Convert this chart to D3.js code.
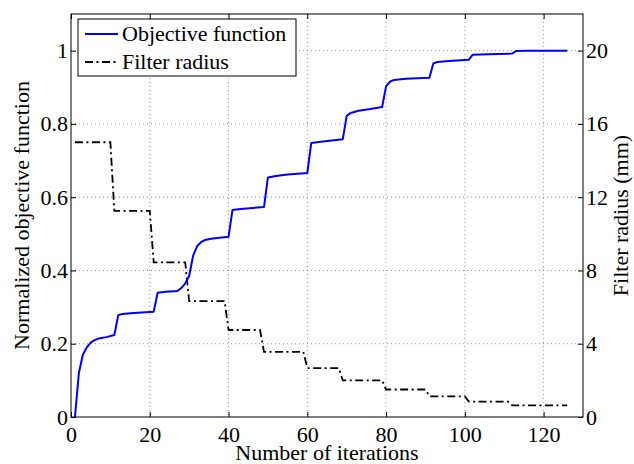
<!DOCTYPE html>
<html>
<head>
<meta charset="utf-8">
<script src="https://cdn.jsdelivr.net/npm/d3@7"></script>
<style>
  body { margin: 0; background: #fff; }
  svg text { font-family: "Liberation Serif", "DejaVu Serif", serif; fill: #000; }
</style>
</head>
<body>
<svg id="chart" width="634" height="464"></svg>
<script>
// objective function (normalized) vs iteration
var obj_iter = [1, 2, 3, 4, 5, 6, 7, 9, 11, 12, 13, 16, 21, 22, 24, 27, 28, 29, 30, 31, 32, 33, 34, 36, 40,
    41, 43, 49, 50, 52, 55, 60, 61, 64, 69, 70, 71, 73, 76, 79, 80, 81, 82, 85, 91, 92, 93, 96, 101,
    102, 106, 112, 113, 116, 126];
var obj_val = [0, 0.12, 0.17, 0.19, 0.203, 0.21, 0.214, 0.218, 0.224, 0.278, 0.281, 0.284, 0.287, 0.339, 0.342, 0.344, 0.352, 0.365, 0.385, 0.44, 0.466, 0.477, 0.483, 0.487, 0.492,
    0.565, 0.568, 0.573, 0.654, 0.658, 0.662, 0.666, 0.748, 0.752, 0.758, 0.822, 0.83, 0.836, 0.841, 0.846, 0.903, 0.915, 0.92, 0.923, 0.926, 0.965, 0.969, 0.972, 0.975,
    0.989, 0.99, 0.992, 0.999, 1.0, 1.0];

// filter radius (mm) vs iteration
var rad_iter = [1, 10, 11, 20, 21, 29, 30, 39, 40, 48, 49, 59, 60, 68, 69, 79, 80, 90, 91, 100, 101, 111, 112, 126];
var rad_val = [15, 15, 11.25, 11.25, 8.44, 8.44, 6.33, 6.33, 4.75, 4.75, 3.56, 3.56, 2.67, 2.67, 2.0, 2.0, 1.5, 1.5, 1.13, 1.13, 0.84, 0.84, 0.63, 0.63];

var x_ticks = [0, 20, 40, 60, 80, 100, 120];
var y_ticks = [0, 0.2, 0.4, 0.6, 0.8, 1];
var y2_ticks = [0, 4, 8, 12, 16, 20];
var legend_labels = ["Objective function", "Filter radius"];

var margin = {left: 71, right: 51, top: 14, bottom: 47};
var width = 634 - margin.left - margin.right;
var height = 464 - margin.top - margin.bottom;
var serif = "'Liberation Serif', 'DejaVu Serif', serif";

var svg = d3.select("#chart");
var g = svg.append("g")
    .attr("transform", "translate(" + margin.left + "," + margin.top + ")");

var x = d3.scaleLinear().domain([0, 130]).range([0, width]);
var y = d3.scaleLinear().domain([0, 1.1]).range([height, 0]);
var y2 = d3.scaleLinear().domain([0, 22]).range([height, 0]);

// dotted grid
g.selectAll(".vgrid")
    .data(x_ticks.filter(function (d) { return d > 0; }))
    .enter().append("line")
    .attr("x1", function (d) { return x(d); })
    .attr("x2", function (d) { return x(d); })
    .attr("y1", 0).attr("y2", height)
    .attr("stroke", "#777").attr("stroke-width", 0.8)
    .attr("stroke-dasharray", "1,3");

g.selectAll(".hgrid")
    .data(y_ticks.filter(function (d) { return d > 0; }))
    .enter().append("line")
    .attr("x1", 0).attr("x2", width)
    .attr("y1", function (d) { return y(d); })
    .attr("y2", function (d) { return y(d); })
    .attr("stroke", "#777").attr("stroke-width", 0.8)
    .attr("stroke-dasharray", "1,3");

// axes, matlab style: ticks point inward, mirrored on every side
function style_axis(sel) {
    sel.attr("font-family", serif).attr("font-size", 22);
    sel.select(".domain").remove();
    sel.selectAll(".tick line").attr("stroke", "#000");
    sel.selectAll(".tick text").attr("fill", "#000").style("font-family", serif);
}

g.append("g")
    .attr("transform", "translate(0," + height + ")")
    .call(d3.axisBottom(x).tickValues(x_ticks).tickSizeInner(-5).tickPadding(9).tickFormat(d3.format("d")))
    .call(style_axis);

g.append("g")
    .call(d3.axisTop(x).tickValues(x_ticks).tickSizeInner(-5).tickFormat(""))
    .call(style_axis);

g.append("g")
    .call(d3.axisLeft(y).tickValues(y_ticks).tickSizeInner(-5).tickPadding(3).tickFormat(function (d) { return d3.format("")(+d.toFixed(1)); }))
    .call(style_axis);

g.append("g")
    .attr("transform", "translate(" + width + ",0)")
    .call(d3.axisRight(y2).tickValues(y2_ticks).tickSizeInner(-5).tickPadding(3).tickFormat(d3.format("d")))
    .call(style_axis);

// box
g.append("rect")
    .attr("width", width).attr("height", height)
    .attr("fill", "none").attr("stroke", "#000").attr("stroke-width", 1);

// series
var obj_line = d3.line()
    .x(function (d, i) { return x(obj_iter[i]); })
    .y(function (d) { return y(d); });

var rad_line = d3.line()
    .x(function (d, i) { return x(rad_iter[i]); })
    .y(function (d) { return y2(d); });

g.append("path")
    .attr("d", rad_line(rad_val))
    .attr("fill", "none")
    .attr("stroke", "#000")
    .attr("stroke-width", 1.8)
    .attr("stroke-dasharray", "8,3.5,2,3.5");

g.append("path")
    .attr("d", obj_line(obj_val))
    .attr("fill", "none")
    .attr("stroke", "#0000ff")
    .attr("stroke-width", 2)
    .attr("stroke-linejoin", "round");

// legend
var legend = svg.append("g").attr("transform", "translate(78,19)");
legend.append("rect")
    .attr("width", 218).attr("height", 57)
    .attr("fill", "#fff").attr("stroke", "#000").attr("stroke-width", 1);

legend.selectAll(".lg_line")
    .data(legend_labels)
    .enter().append("line")
    .attr("x1", 7).attr("x2", 40)
    .attr("y1", function (d, i) { return 15 + i * 28; })
    .attr("y2", function (d, i) { return 15 + i * 28; })
    .attr("stroke", function (d, i) { return i === 0 ? "#0000ff" : "#000"; })
    .attr("stroke-width", function (d, i) { return i === 0 ? 2 : 1.8; })
    .attr("stroke-dasharray", function (d, i) { return i === 0 ? null : "8,3.5,2,3.5"; });

legend.selectAll(".lg_text")
    .data(legend_labels)
    .enter().append("text")
    .attr("x", 44)
    .attr("y", function (d, i) { return 15 + i * 28; })
    .attr("dy", "0.33em")
    .style("font-size", "22px")
    .text(function (d) { return d; });

// axis labels
svg.append("text")
    .attr("x", margin.left + width / 2)
    .attr("y", 460)
    .attr("text-anchor", "middle")
    .style("font-size", "22px")
    .text("Number of iterations");

svg.append("text")
    .attr("transform", "translate(29," + (margin.top + height / 2) + ") rotate(-90)")
    .attr("text-anchor", "middle")
    .style("font-size", "22px")
    .text("Normalized objective function");

svg.append("text")
    .attr("transform", "translate(628," + (margin.top + height / 2) + ") rotate(-90)")
    .attr("text-anchor", "middle")
    .style("font-size", "22px")
    .text("Filter radius (mm)");
</script>
</body>
</html>
